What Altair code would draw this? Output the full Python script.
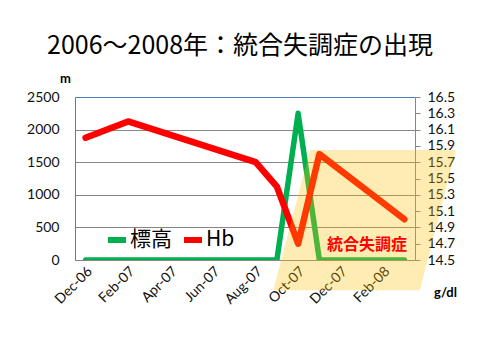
import json
import altair as alt
import pandas as pd

months = ["Dec-06", "Jan-07", "Feb-07", "Mar-07", "Apr-07", "May-07", "Jun-07", "Jul-07",
          "Aug-07", "Sep-07", "Oct-07", "Nov-07", "Dec-07", "Jan-08", "Feb-08", "Mar-08"]
altitude = [0, 0, 0, 0, 0, 0, 0, 0, 0, 0, 2250, 0, 0, 0, 0, 0]
hb = [16.0, None, 16.2, None, None, None, None, None, 15.7, 15.4, 14.7, 15.8, None, None, None, 15.0]

left_ticks = [0, 500, 1000, 1500, 2000, 2500]
right_ticks = [14.5, 14.7, 14.9, 15.1, 15.3, 15.5, 15.7, 15.9, 16.1, 16.3, 16.5]
x_ticks = [0, 2, 4, 6, 8, 10, 12, 14]

# highlighted period (parallelogram), in month index / Hb units
band_hb = [15.85, 14.13]
band_left = [10.56, 8.83]
band_right = [17.42, 15.73]

df = pd.DataFrame({"idx": list(range(len(months))), "month": months,
                   "altitude": altitude, "hb": hb})
band = pd.DataFrame({"ay": band_hb, "xl": band_left, "xr": band_right})
note = pd.DataFrame({"label": ["統合失調症"]})

xdom = alt.Scale(domain=[-0.5, 15.5], nice=False, zero=False)
label_expr = json.dumps(months) + "[datum.value]"

color_scale = alt.Scale(domain=["標高", "Hb"], range=["#00b050", "#ff0000"])
legend = alt.Legend(orient="none", legendX=30, legendY=131, direction="horizontal", title=None,
                    symbolType="stroke", symbolStrokeWidth=6, symbolSize=324,
                    labelFontSize=21, labelFont="Noto Sans CJK JP", labelColor="black",
                    columnPadding=0, padding=0, labelOffset=1)

base = alt.Chart(df)

green = base.transform_calculate(series="'標高'").mark_line(
    strokeWidth=5.5, strokeJoin="round", strokeCap="round", clip=True).encode(
    x=alt.X("idx:Q", scale=xdom,
            axis=alt.Axis(values=x_ticks, labelExpr=label_expr, labelAngle=-45, labelAlign="right",
                          labelBaseline="middle", ticks=False, labelPadding=9, labelOffset=4,
                          grid=False, domainColor="#868686", title=None, labelFont="Lato",
                          labelFontSize=14, labelColor="#111111")),
    y=alt.Y("altitude:Q", scale=alt.Scale(domain=[0, 2500], nice=False),
            axis=alt.Axis(values=left_ticks, format="d", ticks=False, labelPadding=16,
                          domainColor="#4a7ebb", grid=True,
                          gridColor={"condition": {"test": "datum.value == 2500", "value": "#4a7ebb"},
                                     "value": "#868686"},
                          title="m", titleAngle=0, titleX=-10, titleY=-19, titleAlign="center",
                          titleBaseline="middle", titleFont="Lato", titleFontSize=13,
                          titleFontWeight="bold", titleColor="black",
                          labelFont="Lato", labelFontSize=14, labelColor="#111111")),
    color=alt.Color("series:N", scale=color_scale, legend=legend),
)

red = base.transform_filter("isValid(datum.hb)").transform_calculate(series="'Hb'").mark_line(
    strokeWidth=6.5, strokeJoin="round", strokeCap="round").encode(
    x=alt.X("idx:Q", scale=xdom),
    y=alt.Y("hb:Q", scale=alt.Scale(domain=[14.5, 16.5], nice=False, zero=False),
            axis=alt.Axis(orient="right", values=right_ticks, format=".1f", grid=False,
                          domainColor="#868686", tickColor="#868686", tickSize=5, labelPadding=7,
                          title="g/dl", titleAngle=0, titleX=30, titleY=195, titleAlign="center",
                          titleBaseline="middle", titleFont="Lato", titleFontSize=13,
                          titleFontWeight="bold", titleColor="black",
                          labelFont="Lato", labelFontSize=14, labelColor="#111111")),
    color=alt.Color("series:N", scale=color_scale, legend=legend),
)

shade = alt.Chart(band).mark_area(orient="horizontal", color="#ffc000", opacity=0.3).encode(
    y=alt.Y("ay:Q", scale=alt.Scale(domain=[14.5, 16.5], nice=False, zero=False), axis=None),
    x=alt.X("xl:Q", scale=xdom),
    x2="xr:Q",
)

text = alt.Chart(note).mark_text(font="Noto Sans CJK JP", fontSize=16, fontWeight="bold",
                                 color="#ff0000").encode(
    text="label:N", x=alt.value(292), y=alt.value(148))

chart = alt.layer(green, red, shade, text).resolve_scale(y="independent").properties(
    width=340, height=163,
    autosize=alt.AutoSizeParams(type="none"),
    padding={"left": 67, "top": 89, "right": 57, "bottom": 92},
    title=alt.TitleParams(text="2006～2008年：統合失調症の出現", fontSize=25,
                          font="Noto Sans CJK JP", fontWeight="normal", color="black",
                          anchor="middle", dx=-5, offset=13),
).configure_view(stroke=None)

chart.save("out.html", embed_options={"renderer": "svg", "actions": False})
